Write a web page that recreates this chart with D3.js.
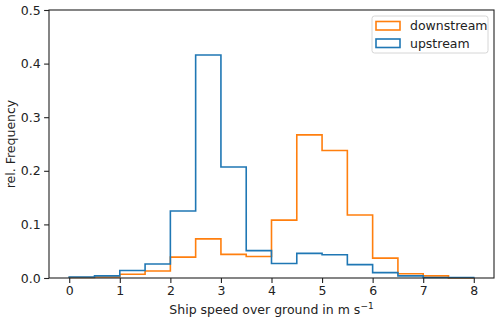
<!DOCTYPE html>
<html>
<head>
<meta charset="utf-8">
<script src="https://cdn.jsdelivr.net/npm/d3@7"></script>
<style>
  body { margin: 0; background: #fff; }
  svg { font-family: "DejaVu Sans", sans-serif; }
</style>
</head>
<body>
<svg id="chart"></svg>
<script>
// histogram bins (m/s) and relative frequencies
const binEdges = [0, 0.5, 1, 1.5, 2, 2.5, 3, 3.5, 4, 4.5, 5, 5.5, 6, 6.5, 7, 7.5, 8];
const downstream = [0.001, 0.002, 0.007, 0.013, 0.039, 0.073, 0.044, 0.040, 0.108, 0.267, 0.238, 0.1175, 0.037, 0.008, 0.004, 0.0];
const upstream = [0.002, 0.004, 0.014, 0.026, 0.125, 0.416, 0.207, 0.051, 0.027, 0.046, 0.0435, 0.025, 0.010, 0.004, 0.001, 0.001];
const xTicks = [0, 1, 2, 3, 4, 5, 6, 7, 8];
const yTicks = [0.0, 0.1, 0.2, 0.3, 0.4, 0.5];
const seriesNames = ["downstream", "upstream"];
const colors = ["#ff7f0e", "#1f77b4"];

const width = 500;
const height = 321;
const margin = ({ top: 10, right: 6, bottom: 43, left: 49 });
const fontSize = 12.5;

let xScale = d3.scaleLinear()
    .domain([-0.4, 8.4])
    .range([margin.left, width - margin.right]);

let yScale = d3.scaleLinear()
    .domain([0, 0.5])
    .range([height - margin.bottom, margin.top]);

const svg = d3.select("#chart")
    .attr("width", width)
    .attr("height", height)
    .attr("viewBox", [0, 0, width, height]);

// step outline like matplotlib histtype="step"
const stepLine = d3.line()
    .x(d => xScale(d[0]))
    .y(d => yScale(d[1]))
    .curve(d3.curveStepAfter);

function stepPoints(values) {
    let pts = [[binEdges[0], 0]];
    values.forEach((v, i) => pts.push([binEdges[i], v]));
    pts.push([binEdges[binEdges.length - 1], values[values.length - 1]]);
    pts.push([binEdges[binEdges.length - 1], 0]);
    return pts;
}

[downstream, upstream].forEach((vals, i) => {
    svg.append("path")
        .attr("d", stepLine(stepPoints(vals)))
        .attr("fill", "none")
        .attr("stroke", colors[i])
        .attr("stroke-width", 1.6)
        .attr("stroke-linejoin", "miter");
});

// axes
const xAxis = g => g
    .attr("transform", `translate(0,${height - margin.bottom})`)
    .call(d3.axisBottom(xScale).tickValues(xTicks).tickFormat(d3.format("d")).tickSize(4.9).tickPadding(3.5))
    .call(g => g.select(".domain").remove());

const yAxis = g => g
    .attr("transform", `translate(${margin.left},0)`)
    .call(d3.axisLeft(yScale).tickValues(yTicks).tickFormat(d3.format(".1f")).tickSize(4.9).tickPadding(3.5))
    .call(g => g.select(".domain").remove());

svg.append("g").call(xAxis);
svg.append("g").call(yAxis);

svg.selectAll(".tick text")
    .attr("font-size", fontSize)
    .attr("font-family", "DejaVu Sans")
    .attr("fill", "#222");
svg.selectAll(".tick line")
    .attr("stroke", "#222")
    .attr("stroke-width", 1.1);

// frame
svg.append("rect")
    .attr("x", margin.left)
    .attr("y", margin.top)
    .attr("width", width - margin.right - margin.left)
    .attr("height", height - margin.bottom - margin.top)
    .attr("fill", "none")
    .attr("stroke", "#222")
    .attr("stroke-width", 1.1);

// axis titles
svg.append("text")
    .attr("transform", `translate(15,${(margin.top + height - margin.bottom) / 2}) rotate(-90)`)
    .attr("text-anchor", "middle")
    .attr("font-size", fontSize)
    .attr("fill", "#222")
    .text("rel. Frequency");

const xTitle = svg.append("text")
    .attr("x", (margin.left + width - margin.right) / 2)
    .attr("y", 313.5)
    .attr("text-anchor", "middle")
    .attr("font-size", fontSize)
    .attr("fill", "#222");
xTitle.append("tspan").text("Ship speed over ground in m s");
xTitle.append("tspan").attr("dy", -5).attr("font-size", 9).text("\u22121");

// legend
const legend = svg.append("g").attr("transform", "translate(372,16)");
legend.append("rect")
    .attr("width", 116)
    .attr("height", 37)
    .attr("rx", 2.5)
    .attr("fill", "#fff")
    .attr("fill-opacity", 0.8)
    .attr("stroke", "#d6d6d6")
    .attr("stroke-width", 1);

seriesNames.forEach((name, i) => {
    const row = legend.append("g").attr("transform", `translate(0,${i * 17.5})`);
    row.append("rect")
        .attr("x", 4)
        .attr("y", 5.5)
        .attr("width", 24)
        .attr("height", 8.5)
        .attr("fill", "none")
        .attr("stroke", colors[i])
        .attr("stroke-width", 1.6);
    row.append("text")
        .attr("x", 38)
        .attr("y", 14.3)
        .attr("font-size", fontSize)
        .attr("fill", "#222")
        .text(name);
});
</script>
</body>
</html>
